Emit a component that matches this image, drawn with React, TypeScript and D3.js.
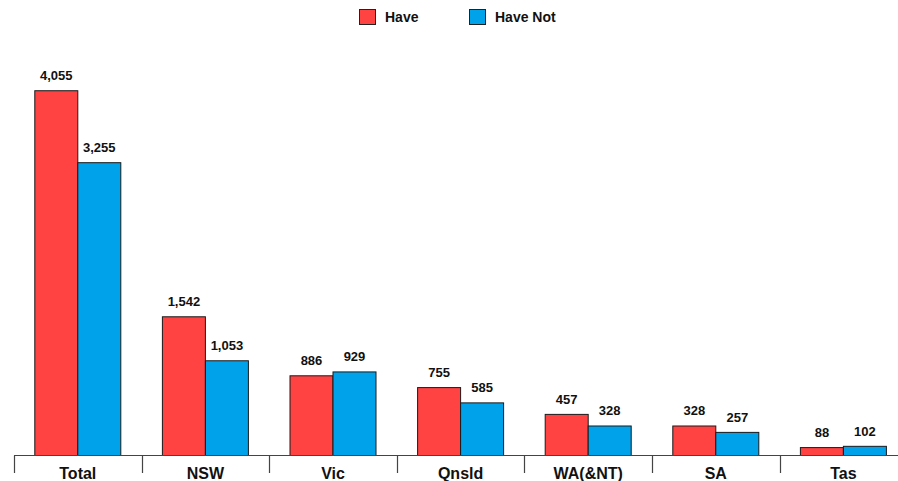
import React from "react";
import * as d3 from "d3";

const categories = ["Total", "NSW", "Vic", "Qnsld", "WA(&NT)", "SA", "Tas"];
const seriesNames = ["Have", "Have Not"];
const haveValues = [4055, 1542, 886, 755, 457, 328, 88];
const haveNotValues = [3255, 1053, 929, 585, 328, 257, 102];
const colors = ["#FF4242", "#00A2EA"];

const W = 898;
const H = 481;
const left = 14;
const step = 127.6;
const baseline = 455.5;
const barW = 43;

export default function App() {
  const x = d3
    .scaleBand<string>()
    .domain(categories)
    .range([left, left + step * categories.length])
    .paddingInner(0)
    .paddingOuter(0);
  const y = d3.scaleLinear().domain([0, 4500]).range([baseline, baseline - 404.8]);
  const fmt = d3.format(",");
  const series = [haveValues, haveNotValues];
  const font = "'Liberation Sans', Arial, sans-serif";

  return (
    <svg
      width={W}
      height={H}
      style={{ position: "absolute", left: 0, top: 0, background: "#fff" }}
      fontFamily={font}
    >
      {/* legend */}
      {seriesNames.map((name, i) => {
        const lx = i === 0 ? 359 : 469;
        return (
          <g key={name}>
            <rect x={lx + 0.5} y={9.5} width={16} height={15} fill={colors[i]} stroke="#222" strokeWidth={1} />
            <text x={lx + 26} y={22} fontSize={14} fontWeight="bold" fill="#111">
              {name}
            </text>
          </g>
        );
      })}

      {/* bars */}
      {categories.map((c, ci) => {
        const cx = (x(c) as number) + x.bandwidth() / 2;
        return (
          <g key={c}>
            {series.map((vals, si) => {
              const bx = cx - barW + si * barW;
              const top = y(vals[ci]);
              return (
                <g key={si}>
                  <rect
                    x={bx}
                    y={top}
                    width={barW}
                    height={baseline - top}
                    fill={colors[si]}
                    stroke="#1a1a1a"
                    strokeWidth={1}
                  />
                  <text
                    x={bx + barW / 2}
                    y={top - 10.5}
                    textAnchor="middle"
                    fontSize={13}
                    fontWeight="bold"
                    fill="#111"
                  >
                    {fmt(vals[ci])}
                  </text>
                </g>
              );
            })}
            <text x={cx} y={479} textAnchor="middle" fontSize={16} fontWeight="bold" fill="#111">
              {c}
            </text>
          </g>
        );
      })}

      {/* category axis */}
      <line x1={left} x2={W} y1={baseline} y2={baseline} stroke="#444" strokeWidth={1.2} />
      {categories.map((c) => {
        const tx = Math.round(x(c) as number) + 0.5;
        return <line key={c} x1={tx} x2={tx} y1={baseline} y2={473} stroke="#444" strokeWidth={1.2} />;
      })}
    </svg>
  );
}
